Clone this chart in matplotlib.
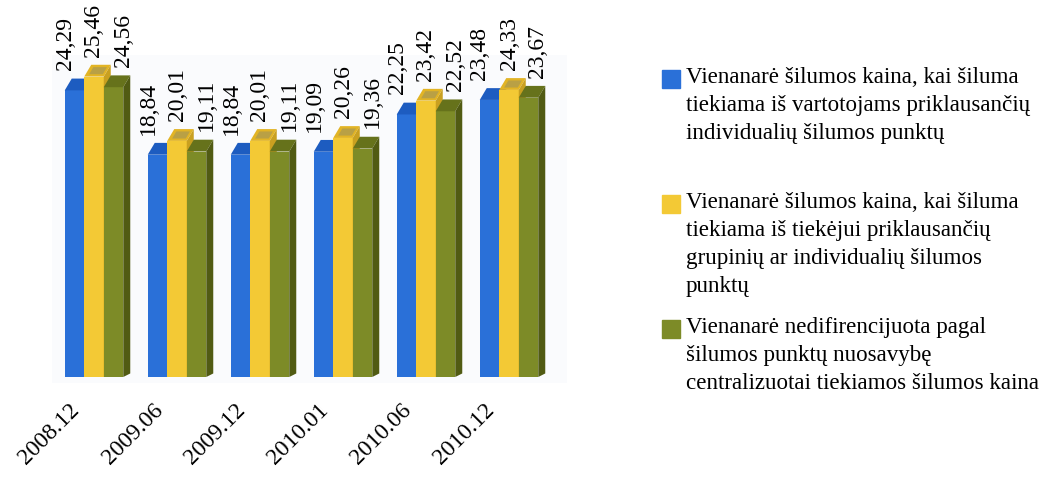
import numpy as np
import matplotlib.pyplot as plt
import matplotlib.transforms as mtransforms

plt.rcParams['font.family'] = ['Liberation Serif', 'DejaVu Serif']

periods = ['2008.12', '2009.06', '2009.12', '2010.01', '2010.06', '2010.12']
individual = [24.29, 18.84, 18.84, 19.09, 22.25, 23.48]
supplier = [25.46, 20.01, 20.01, 20.26, 23.42, 24.33]
undiff = [24.56, 19.11, 19.11, 19.36, 22.52, 23.67]

labels = [
    'Vienanarė šilumos kaina, kai šiluma\ntiekiama iš vartotojams priklausančių\nindividualių šilumos punktų',
    'Vienanarė šilumos kaina, kai šiluma\ntiekiama iš tiekėjui priklausančių\ngrupinių ar individualių šilumos\npunktų',
    'Vienanarė nedifirencijuota pagal\nšilumos punktų nuosavybę\ncentralizuotai tiekiamos šilumos kaina',
]

# face, top face, side face
colors = [
    ('#2a70d8', '#1d5cc0', '#1a4fa5'),
    ('#f3c935', '#e2b425', '#c9a020'),
    ('#7d8b27', '#66721b', '#515b13'),
]

fig = plt.figure(figsize=(10.59, 4.79), dpi=100)
# plot area (faint background box like the original)
ax = fig.add_axes([52 / 1059, 1 - 383 / 479, 515 / 1059, 328 / 479])
ax.set_facecolor('#fafbfd')

x = np.arange(len(periods))
w = 0.235
px = 1 / 83.0  # one pixel in x data units
dx, dy = 7 * px, 1.0  # fake depth


def bar3d(k, vals, face, top, side):
    z = 2 + k
    bars = ax.bar(x + (k - 1) * w, vals, w, color=face, zorder=z, linewidth=0)
    for i, b in enumerate(bars):
        x0 = b.get_x()
        x1 = x0 + b.get_width()
        h = b.get_height()
        ax.fill([x0, x0 + dx, x1 + dx, x1], [h, h + dy, h + dy, h],
                color=top, zorder=z, linewidth=0)
        if k == 1:
            # hollow look on the yellow top
            ax.fill([x0 + 0.25 * w, x0 + 0.25 * w + dx * 0.6, x1 - 0.05 * w + dx * 0.6, x1 - 0.05 * w],
                    [h + 0.2 * dy, h + 0.8 * dy, h + 0.8 * dy, h + 0.2 * dy],
                    color='#b9a045', zorder=z, linewidth=0)
        ax.fill([x1, x1 + dx, x1 + dx, x1], [0, dy * 0.3, h + dy, h],
                color=side, zorder=z, linewidth=0)
        lx = i + (0 + (k - 1) * 29) * px
        ax.text(lx, h + dy + 0.7, f'{h:.2f}'.replace('.', ','),
                rotation=90, ha='center', va='bottom', fontsize=17, zorder=10)


for k, vals in enumerate([individual, supplier, undiff]):
    bar3d(k, vals, *colors[k])

ax.set_xlim(-42 * px, 5 + 58 * px)
ax.set_ylim(-6 / 11.8, 322 / 11.8)
for s in ax.spines.values():
    s.set_visible(False)
ax.set_yticks([])
ax.set_xticks(x)
ax.set_xticklabels(periods, rotation=45, ha='right', va='top', fontsize=17)
ax.tick_params(axis='x', length=0, pad=12)
off = mtransforms.ScaledTranslation(-10 / 100, 0, fig.dpi_scale_trans)
for t in ax.get_xticklabels():
    t.set_transform(t.get_transform() + off)

# legend drawn by hand
leg_y = [77, 202, 327]
for k, lab in enumerate(labels):
    y = 1 - leg_y[k] / 479
    fig.patches.append(plt.Rectangle((662 / 1059, y - 11 / 479), 18 / 1059, 18 / 479,
                                     transform=fig.transFigure, color=colors[k][0]))
    fig.text(686 / 1059, y + 10 / 479, lab, ha='left', va='top', fontsize=16.6,
             linespacing=1.43)

fig.savefig('out.png', dpi=100)
